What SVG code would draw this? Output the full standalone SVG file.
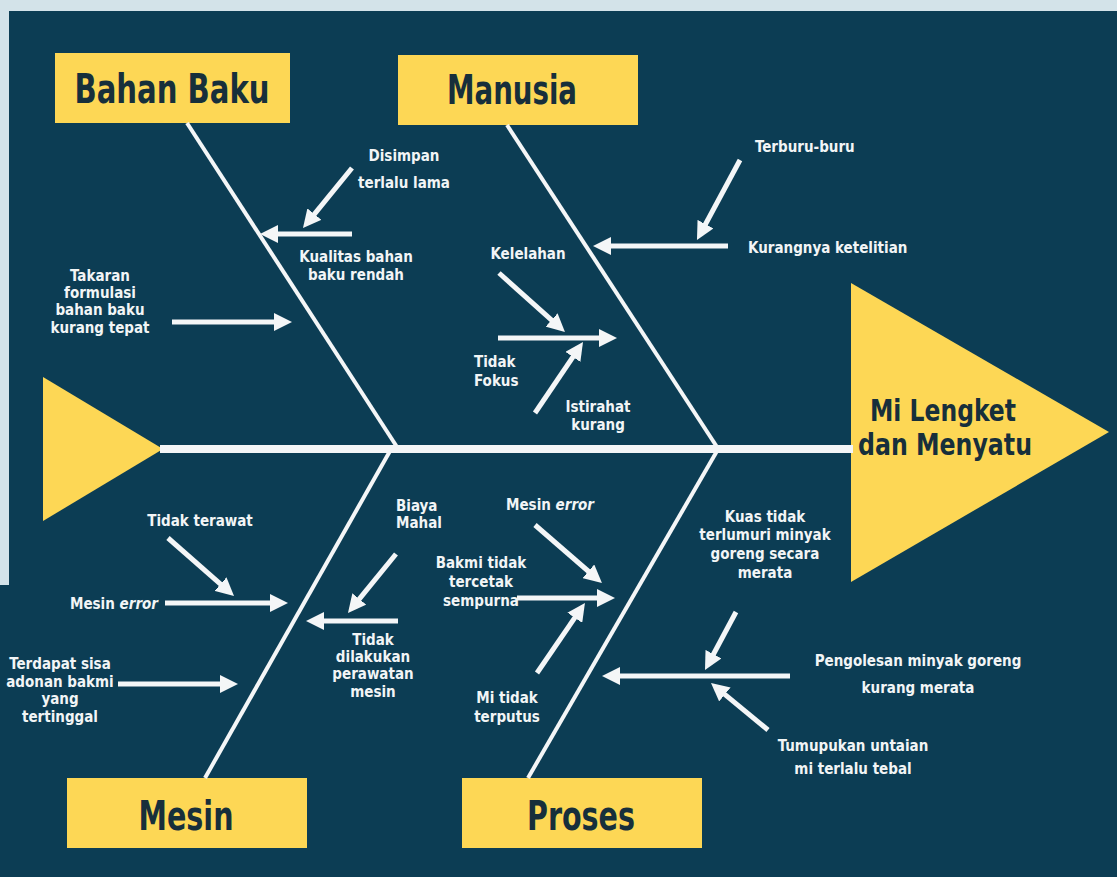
<svg xmlns="http://www.w3.org/2000/svg" width="1117" height="877" viewBox="0 0 1117 877">
<style>
.bg{fill:#d3e3e9}
.navy{fill:#0c3d54}
.yel{fill:#fdd755}
.bone{stroke:#f4f6f7;stroke-width:4;fill:none}
.spine{stroke:#f4f6f7;stroke-width:8;fill:none}
.arr{stroke:#f4f6f7;stroke-width:5;fill:none;marker-end:url(#ah)}
text{font-family:"Liberation Sans Narrow","DejaVu Sans Condensed","Liberation Sans",sans-serif;font-weight:bold}
.t{font-size:15px;fill:#f2f5f6;text-anchor:middle}
.tl{font-size:15px;fill:#f2f5f6;text-anchor:start}
.title{font-size:40px;fill:#172f3b;text-anchor:middle}
.head{font-size:30px;fill:#172f3b;text-anchor:start}
</style>
<defs>
<marker id="ah" markerUnits="userSpaceOnUse" markerWidth="18" markerHeight="18" viewBox="0 0 18 18" refX="8" refY="9" orient="auto">
<path d="M0,0 L18,9 L0,18 Z" fill="#f4f6f7"/>
</marker>
</defs>
<rect class="bg" x="0" y="0" width="1117" height="877"/>
<path class="navy" d="M9,11 H1117 V877 H0 V585 H9 Z"/>

<g id="tail">
<polygon class="yel" points="43,377 163,449 43,521"/>
</g>
<g id="head">
<polygon class="yel" points="851,283 1109,432 851,582"/>
<text class="head" x="870" y="421" textLength="146" lengthAdjust="spacingAndGlyphs">Mi Lengket</text>
<text class="head" x="858" y="455" textLength="174" lengthAdjust="spacingAndGlyphs">dan Menyatu</text>
</g>

<g id="bahan-baku">
<rect class="yel" x="55" y="53" width="235" height="70"/>
<text class="title" x="172" y="103" textLength="195" lengthAdjust="spacingAndGlyphs">Bahan Baku</text>
</g>
<g id="manusia">
<rect class="yel" x="398" y="55" width="240" height="70"/>
<text class="title" x="512" y="104" textLength="130" lengthAdjust="spacingAndGlyphs">Manusia</text>
</g>
<g id="mesin">
<rect class="yel" x="67" y="778" width="240" height="70"/>
<text class="title" x="186" y="830" textLength="95" lengthAdjust="spacingAndGlyphs">Mesin</text>
</g>
<g id="proses">
<rect class="yel" x="462" y="778" width="240" height="70"/>
<text class="title" x="581" y="830" textLength="108" lengthAdjust="spacingAndGlyphs">Proses</text>
</g>

<g id="connectors">
<line class="spine" x1="160" y1="449" x2="853" y2="449"/>
<line class="bone" x1="187" y1="123" x2="397" y2="447"/>
<line class="bone" x1="507" y1="125" x2="717" y2="447"/>
<line class="bone" x1="390" y1="451" x2="205" y2="778"/>
<line class="bone" x1="717" y1="451" x2="528" y2="778"/>

<line class="arr" x1="352" y1="168" x2="309.3" y2="220.3"/>
<line class="arr" x1="352" y1="234" x2="270" y2="234"/>
<line class="arr" x1="172" y1="322" x2="282" y2="322"/>

<line class="arr" x1="740" y1="160" x2="701.7" y2="231.2"/>
<line class="arr" x1="728" y1="246" x2="603" y2="246"/>
<line class="arr" x1="499" y1="273" x2="557.5" y2="325.3"/>
<line class="arr" x1="498" y1="338" x2="607" y2="338"/>
<line class="arr" x1="535" y1="413" x2="577.4" y2="350.3"/>

<line class="arr" x1="168" y1="538" x2="226.5" y2="589.4"/>
<line class="arr" x1="165" y1="603" x2="278" y2="603"/>
<line class="arr" x1="396" y1="554" x2="354.3" y2="605.2"/>
<line class="arr" x1="398" y1="621" x2="316" y2="621"/>
<line class="arr" x1="118" y1="684" x2="228" y2="684"/>

<line class="arr" x1="535" y1="525" x2="594.4" y2="576.5"/>
<line class="arr" x1="517" y1="598" x2="605" y2="598"/>
<line class="arr" x1="537" y1="673" x2="579.3" y2="611.2"/>
<line class="arr" x1="736" y1="612" x2="709.7" y2="661.2"/>
<line class="arr" x1="790" y1="676" x2="612" y2="676"/>
<line class="arr" x1="768" y1="730" x2="718.7" y2="689.4"/>
</g>

<g id="labels-bahan-baku">
<text class="t" x="404" y="161">Disimpan</text>
<text class="t" x="404" y="188">terlalu lama</text>
<text class="t" x="356" y="262">Kualitas bahan</text>
<text class="t" x="356" y="280">baku rendah</text>
<text class="t" x="100" y="281">Takaran</text>
<text class="t" x="100" y="298">formulasi</text>
<text class="t" x="100" y="315">bahan baku</text>
<text class="t" x="100" y="333">kurang tepat</text>
</g>
<g id="labels-manusia">
<text class="tl" x="755" y="152">Terburu-buru</text>
<text class="tl" x="748" y="253">Kurangnya ketelitian</text>
<text class="t" x="528" y="259">Kelelahan</text>
<text class="tl" x="474" y="367">Tidak</text>
<text class="tl" x="474" y="386">Fokus</text>
<text class="t" x="598" y="412">Istirahat</text>
<text class="t" x="598" y="430">kurang</text>
</g>
<g id="labels-mesin">
<text class="t" x="200" y="526">Tidak terawat</text>
<text class="tl" x="70" y="609">Mesin <tspan font-style="italic">error</tspan></text>
<text class="tl" x="396" y="511">Biaya</text>
<text class="tl" x="396" y="528">Mahal</text>
<text class="t" x="373" y="645">Tidak</text>
<text class="t" x="373" y="662">dilakukan</text>
<text class="t" x="373" y="679">perawatan</text>
<text class="t" x="373" y="697">mesin</text>
<text class="t" x="60" y="669">Terdapat sisa</text>
<text class="t" x="60" y="687">adonan bakmi</text>
<text class="t" x="60" y="704">yang</text>
<text class="t" x="60" y="722">tertinggal</text>
</g>
<g id="labels-proses">
<text class="t" x="550" y="510">Mesin <tspan font-style="italic">error</tspan></text>
<text class="t" x="481" y="568">Bakmi tidak</text>
<text class="t" x="481" y="587">tercetak</text>
<text class="t" x="481" y="606">sempurna</text>
<text class="t" x="507" y="703">Mi tidak</text>
<text class="t" x="507" y="722">terputus</text>
<text class="t" x="765" y="522">Kuas tidak</text>
<text class="t" x="765" y="540">terlumuri minyak</text>
<text class="t" x="765" y="559">goreng secara</text>
<text class="t" x="765" y="578">merata</text>
<text class="t" x="918" y="666">Pengolesan minyak goreng</text>
<text class="t" x="918" y="693">kurang merata</text>
<text class="t" x="853" y="751">Tumupukan untaian</text>
<text class="t" x="853" y="774">mi terlalu tebal</text>
</g>
</svg>
